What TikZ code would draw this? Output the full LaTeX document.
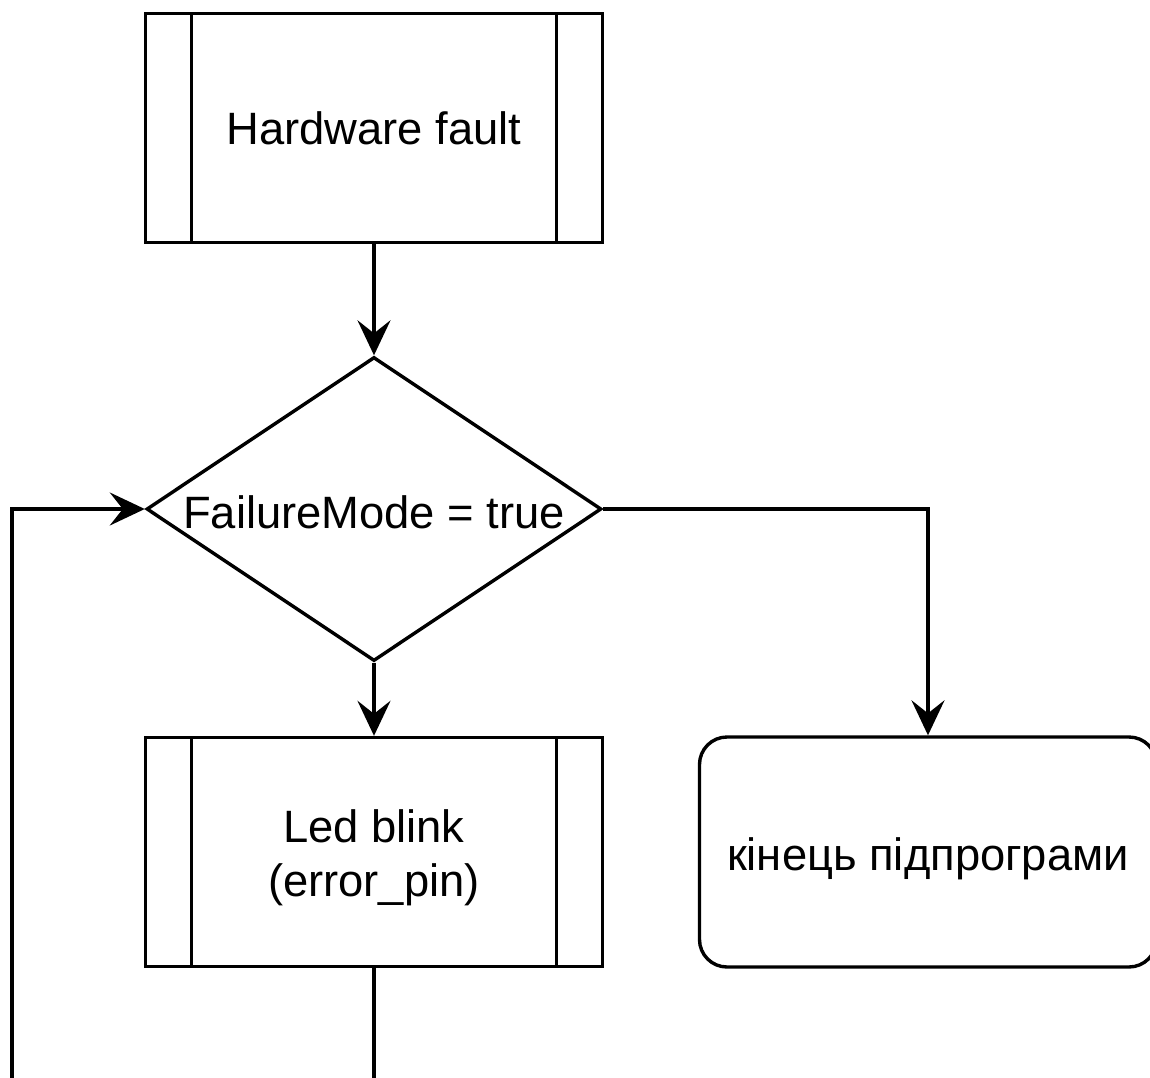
\documentclass[tikz,border=0pt]{standalone}
\usepackage{fontspec}
\setmainfont{Liberation Sans}
\usetikzlibrary{
    arrows.meta, % for the arrow tips
    positioning, % for placing nodes relative to other nodes
    shapes.geometric % defines the diamond shape
}

\begin{document}
\begin{tikzpicture}[
    node distance=6.86cm,on grid,>={Stealth[length=7mm,width=6.6mm,inset=2.6mm]},
    line width=0.068cm,
    every node/.style = {font=\fontsize{25.8}{30.5}\selectfont,align=center},
    subroutine/.style = {draw,minimum width=9.14cm,minimum height=4.58cm,inner sep=0pt,
        path picture={
            \draw ([xshift=0.92cm]path picture bounding box.north west)
               -- ([xshift=0.92cm]path picture bounding box.south west);
            \draw ([xshift=-0.92cm]path picture bounding box.north east)
               -- ([xshift=-0.92cm]path picture bounding box.south east);
        }},
    decision/.style   = {draw,diamond,minimum width=9.1cm,minimum height=6.08cm,inner sep=0pt},
    terminal/.style   = {draw,rounded corners=0.55cm,minimum width=9.14cm,minimum height=4.6cm}
]

% frame of the page, the loop runs out of it at the bottom
    \useasboundingbox (-7.48,2.56) rectangle (15.52,-19.0);
    \clip (-7.48,2.56) rectangle (15.52,-19.0);

% blocks

    \node [subroutine] (hw)                         {Hardware fault};
    \node [decision]   (dec) [below=7.62cm of hw]
        [label={[yshift=-0.6mm]center:{FailureMode = true}}]  {};
    \node [subroutine] (led) [below=of dec]
        [label={[yshift=-1.2mm]center:{Led blink\\(error\_pin)}}] {};
    \node [terminal]   (end) [right=11.08cm of led]
        [label={[yshift=-1.4mm]center:{кінець підпрограми}}]  {};

% connectors

    \coordinate (back) at (-7.24,-19.6);

    \draw [->] (hw)  -- (dec);
    \draw [->] (dec) -- (led);
    \draw [->] (dec) -| (end);
    \draw [->] (led) |- (back) |- (dec);

\end{tikzpicture}
\end{document}
